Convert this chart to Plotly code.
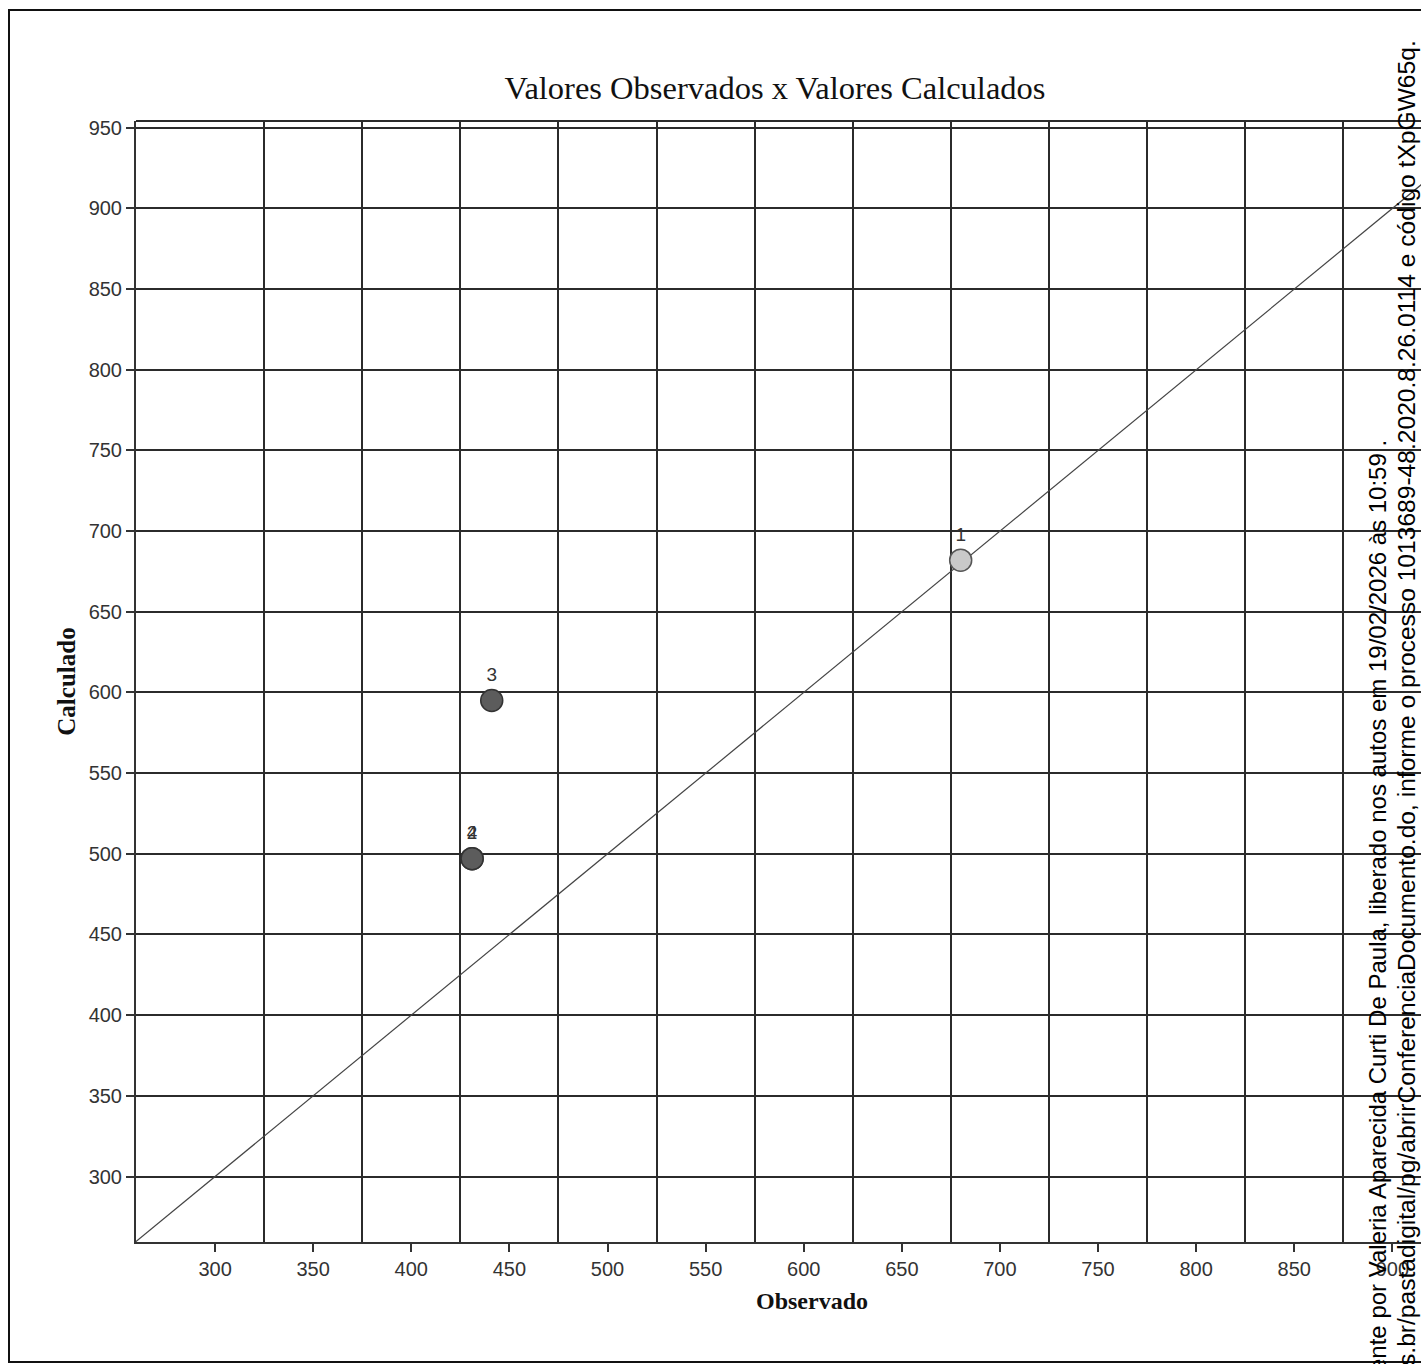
import plotly.graph_objects as go

# Data
obs = [680, 431, 441, 431]
calc = [682, 497, 595, 497]
labels = ["1", "2", "3", "4"]
marker_colors = ["#c9c9c9", "#5c5c5c", "#5c5c5c", "#5c5c5c"]
line_colors = ["#555555", "#333333", "#333333", "#333333"]
diag = [250, 1000]
x_ticks = [300, 350, 400, 450, 500, 550, 600, 650, 700, 750, 800, 850, 900]
x_grid = [325, 375, 425, 475, 525, 575, 625, 675, 725, 775, 825, 875]
y_ticks = [300, 350, 400, 450, 500, 550, 600, 650, 700, 750, 800, 850, 900, 950]

W, H = 1421, 1364
L, R, T, B = 136, 0, 121, 122
pw = W - L - R
ph = H - T - B

def px(x):
    return (x - L) / pw

def py(y):
    return (H - B - y) / ph

fig = go.Figure()

fig.add_trace(go.Scatter(
    x=diag, y=diag, mode="lines",
    line=dict(color="#444444", width=1.2),
    hoverinfo="skip", showlegend=False,
))

fig.add_trace(go.Scatter(
    x=obs, y=calc, mode="markers+text",
    text=labels, textposition="top center",
    textfont=dict(family="Liberation Sans", size=19, color="#333333"),
    marker=dict(size=22, color=marker_colors,
                line=dict(color=line_colors, width=1.5)),
    showlegend=False,
))

serif = "Liberation Serif"
sans = "Liberation Sans"

fig.update_layout(
    width=W, height=H,
    margin=dict(l=L, r=R, t=T, b=B, pad=0),
    paper_bgcolor="white", plot_bgcolor="white",
    title=dict(text="Valores Observados x Valores Calculados",
               x=px(775), xref="paper", xanchor="center",
               y=1 - 88 / H, yanchor="middle",
               font=dict(family=serif, size=32.5, color="#111111")),
    xaxis=dict(
        range=[259.7, 914.6],
        tickvals=x_ticks, ticktext=[str(v) for v in x_ticks],
        ticks="outside", ticklen=8, tickwidth=1.5, tickcolor="#333333",
        showgrid=False, zeroline=False,
        showline=True, linecolor="#333333", linewidth=2,
        tickfont=dict(family=sans, size=20, color="#333333"),
        minor=dict(tickmode="array", tickvals=x_grid, showgrid=True,
                   gridcolor="#2b2b2b", gridwidth=2, ticks=""),
    ),
    yaxis=dict(
        range=[259.4, 954.2],
        tickvals=y_ticks, ticktext=[str(v) for v in y_ticks],
        ticks="outside", ticklen=8, tickwidth=1.5, tickcolor="#333333",
        showgrid=True, gridcolor="#2b2b2b", gridwidth=2, zeroline=False,
        showline=True, linecolor="#333333", linewidth=2,
        tickfont=dict(family=sans, size=20, color="#333333"),
        title=dict(text="<b>Calculado</b>", standoff=6,
                   font=dict(family=serif, size=25, color="#111111")),
    ),
    shapes=[
        dict(type="line", xref="paper", yref="paper", x0=0, x1=1, y0=1, y1=1,
             line=dict(color="#2b2b2b", width=2)),
        dict(type="rect", xref="paper", yref="paper",
             x0=px(9), x1=px(1440), y0=py(1362), y1=py(10),
             line=dict(color="#111111", width=2), fillcolor="rgba(0,0,0,0)"),
    ],
    annotations=[
        dict(text="<b>Observado</b>", xref="paper", yref="paper",
             x=px(812), y=py(1301), xanchor="center", yanchor="middle",
             showarrow=False, font=dict(family=serif, size=24, color="#111111")),
        dict(text="ente por Valeria Aparecida Curti De Paula, liberado nos autos em 19/02/2026 às 10:59 .",
             xref="paper", yref="paper", x=px(1377), y=py(438),
             xanchor="center", yanchor="top", textangle=-90, showarrow=False,
             font=dict(family=sans, size=24, color="black")),
        dict(text="s.br/pastadigital/pg/abrirConferenciaDocumento.do, informe o processo 1013689-48.2020.8.26.0114 e código tXpGW65q.",
             xref="paper", yref="paper", x=px(1406), y=py(38),
             xanchor="center", yanchor="top", textangle=-90, showarrow=False,
             font=dict(family=sans, size=24.6, color="black")),
    ],
)

fig.write_html("out.html", config={"displayModeBar": False},
               post_script="document.body.style.margin='0';document.body.style.overflow='hidden';")
